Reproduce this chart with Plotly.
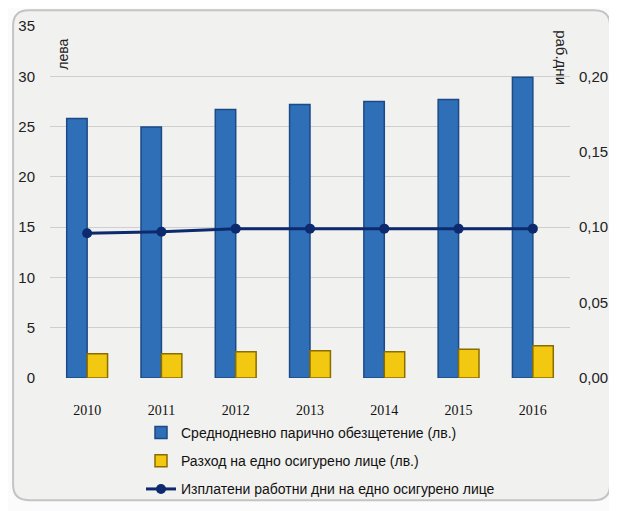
import plotly.graph_objects as go

years = ["2010", "2011", "2012", "2013", "2014", "2015", "2016"]
compensation = [25.8, 24.95, 26.7, 27.2, 27.5, 27.7, 29.9]
cost_per_insured = [2.4, 2.4, 2.6, 2.7, 2.6, 2.85, 3.2]
paid_days = [0.096, 0.097, 0.099, 0.099, 0.099, 0.099, 0.099]

name_comp = "Среднодневно парично обезщетение (лв.)"
name_cost = "Разход на едно осигурено лице (лв.)"
name_days = "Изплатени работни дни на едно осигурено лице"

sans = "Liberation Sans, Arial"

fig = go.Figure()

fig.add_trace(go.Bar(
    x=years, y=compensation, name=name_comp, legendgroup="a",
    marker=dict(color="#2f6fb8", line=dict(color="#1c4a86", width=1.5)),
))
fig.add_trace(go.Bar(
    x=years, y=cost_per_insured, name=name_cost, legendgroup="b",
    marker=dict(color="#f2c811", line=dict(color="#8a6d00", width=1.5)),
))
fig.add_trace(go.Scatter(
    x=years, y=paid_days, name=name_days, legendgroup="c", yaxis="y2",
    mode="lines+markers",
    line=dict(color="#0d2a6e", width=3),
    marker=dict(color="#0d2a6e", size=10),
))

# rounded frame around the chart
x0, x1, y0, y1, r = -0.071, 1.077, -0.347, 1.045, 0.03
ry = r * 520 / 352
frame = (f"M {x0+r},{y1} L {x1-r},{y1} Q {x1},{y1} {x1},{y1-ry} "
         f"L {x1},{y0+ry} Q {x1},{y0} {x1-r},{y0} L {x0+r},{y0} "
         f"Q {x0},{y0} {x0},{y0+ry} L {x0},{y1-ry} Q {x0},{y1} {x0+r},{y1} Z")

# page body has an 8px margin, so the figure is a bit smaller
fig.update_layout(
    width=609, height=503,
    margin=dict(l=42, r=47, t=18, b=133),
    paper_bgcolor="#fbfbfb",
    plot_bgcolor="rgba(0,0,0,0)",
    separators=", ",
    barmode="group", bargap=0.45, bargroupgap=0,
    font=dict(family=sans, size=15, color="#222222"),
    shapes=[dict(type="path", path=frame, xref="paper", yref="paper",
                 fillcolor="#f1f1ef", line=dict(color="#c4c4c4", width=2),
                 layer="below")],
    xaxis=dict(
        tickfont=dict(family="Liberation Serif, Times New Roman", size=14, color="#111"),
        showgrid=False, ticks="", ticklabelstandoff=22,
        showline=False, automargin=False,
    ),
    yaxis=dict(
        range=[0, 35], dtick=5, showgrid=True, gridcolor="#cfcfcf",
        gridwidth=1, zeroline=False, ticklabelstandoff=14, automargin=False,
    ),
    yaxis2=dict(
        overlaying="y", side="right", range=[0, 0.2 * 35 / 30],
        tickvals=[0, 0.05, 0.10, 0.15, 0.20], tickformat=".2f",
        showgrid=False, zeroline=False, ticklabelstandoff=8, automargin=False,
    ),
    legend=dict(
        x=0.175, y=0.187, xanchor="left", yanchor="top", yref="container",
        orientation="v", bgcolor="rgba(0,0,0,0)",
        font=dict(family=sans, size=14, color="#111"),
        tracegroupgap=7, itemwidth=30,
    ),
    annotations=[
        dict(text="лева", textangle=-90, x=0.005, y=0.97, xref="paper", yref="paper",
             xanchor="left", yanchor="top", showarrow=False,
             font=dict(family=sans, size=14, color="#222")),
        dict(text="раб.дни", textangle=90, x=1.005, y=0.995, xref="paper", yref="paper",
             xanchor="right", yanchor="top", showarrow=False,
             font=dict(family=sans, size=15, color="#222")),
    ],
)

fig.write_html("out.html")
